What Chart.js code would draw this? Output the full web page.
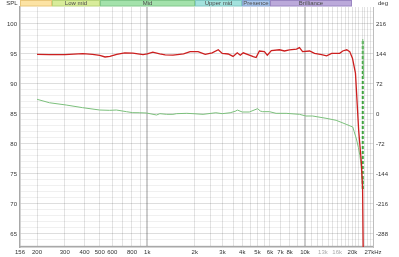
<!DOCTYPE html>
<html>
<head>
<meta charset="utf-8">
<script src="https://cdn.jsdelivr.net/npm/chart.js@4/dist/chart.umd.min.js"></script>
<style>
html,body{margin:0;padding:0;background:#fff;}
#c{display:block;}
</style>
</head>
<body>
<canvas id="c" width="399" height="257"></canvas>
<script>
// ---- data ----
const splFreq = [200,240,300,390,450,500,540,580,640,720,810,940,1000,1085,1200,1300,1455,1600,1700,1870,2100,2330,2580,2820,2990,3260,3500,3720,3890,4060,4440,4700,4900,5140,5530,5770,6120,6890,7410,7970,8840,9230,9660,10700,11500,12750,13720,14760,16600,17350,18400,19220,20000,20900,21900,22800,23200,23450];
const splDb   = [94.95,94.9,94.9,95.05,94.95,94.75,94.5,94.6,94.95,95.2,95.15,94.9,95.0,95.3,95.0,94.85,94.8,94.95,95.0,95.4,95.4,94.95,95.2,95.7,95.1,95.0,94.6,95.2,94.8,95.2,94.8,94.55,94.4,95.5,95.4,94.8,95.55,95.7,95.5,95.7,95.8,96.05,95.4,95.5,95.1,94.9,94.7,95.1,95.1,95.5,95.7,95.4,94.3,91.8,82.3,76.8,72.3,60.0];

const phaseFreq = [200,240,306,389,499,577,637,737,809,897,989,1146,1202,1327,1455,1536,1779,1950,2258,2722,2986,3356,3650,3720,4005,4437,5010,5210,5392,5948,6560,7596,9234,10150,11180,13600,15760,18240,20100,20500,21200,21800,22300,22700,23000,23250,23250,23550];
const phaseDeg  = [35.3,27,21.6,15.2,9.6,8.8,9.6,5.6,3.2,3.0,2.4,-2.4,0.8,-0.8,-0.8,0.8,1.6,0.8,-0.8,3,0.8,3,7.2,9.6,4.8,4.8,12.8,7.2,5.6,5.6,1.6,1.6,-0.8,-4.8,-4.8,-10.3,-15.1,-24.7,-31.2,-42,-60,-80,-100,-125,-155,-180,180,86];

const xGridValues = [200,300,400,500,600,700,800,900,1000,2000,2500,3000,3500,4000,4500,5000,5500,6000,7000,8000,9000,10000,11000,12000,13000,14000,15000,16000,17000,18000,19000,20000,21000,22000,23000,24000,25000,26000,156,27000];
const xTickLabels = {156:'156',200:'200',300:'300',400:'400',500:'500',600:'600',800:'800',1000:'1k',2000:'2k',3000:'3k',4000:'4k',5000:'5k',6000:'6k',7000:'7k',8000:'8k',10000:'10k',13000:'13k',16000:'16k',20000:'20k',27000:'27kHz'};
const xFaintLabels = ['13k','16k'];
const yLeftTicks = [65,70,75,80,85,90,95,100];
const yRightTicks = [-288,-216,-144,-72,0,72,144,216];

const bandEdges = [156,250,500,2000,4000,6000,20000];
const bandNames = ['','Low mid','Mid','Upper mid','Presence','Brilliance'];
const bandColors = ['#fce3a4','#d8ec9a','#a3e2ab','#a3e2dd','#a9c6ec','#bba9da'];
const bandBorders = ['#e9c77a','#b9d47a','#82c98c','#80c9c4','#86a6d2','#9a86c2'];

// ---- chart ----
const FONT = 'Liberation Sans';
const splPts = splFreq.map((f,i)=>({x:f,y:splDb[i]}));
const phPts = phaseFreq.map((f,i)=>({x:f,y:phaseDeg[i]}));

const bandPlugin = {
  id:'bands',
  afterDraw(chart){
    const ctx = chart.ctx, xs = chart.scales.x;
    ctx.save();
    for(let i=0;i<bandNames.length;i++){
      const x0 = Math.round(xs.getPixelForValue(bandEdges[i]));
      const x1 = Math.round(xs.getPixelForValue(bandEdges[i+1]));
      ctx.fillStyle = bandColors[i];
      ctx.fillRect(x0,0,x1-x0,6);
      ctx.strokeStyle = bandBorders[i];
      ctx.lineWidth = 1;
      ctx.strokeRect(x0+0.5,0.5,x1-x0-1,5.5);
      if(bandNames[i]){
        ctx.fillStyle = '#4a4a4a';
        ctx.font = '6px "'+FONT+'"';
        ctx.textAlign='center'; ctx.textBaseline='middle';
        ctx.fillText(bandNames[i],(x0+x1)/2,3.3);
      }
    }
    ctx.fillStyle='#333';
    ctx.font = '6px "'+FONT+'"';
    ctx.textBaseline='middle';
    ctx.textAlign='center';
    ctx.fillText('SPL',12,3.5);
    ctx.fillText('deg',383,3.5);
    ctx.restore();
  }
};

const isMajorX = v => v===1000 || v===10000;

new Chart(document.getElementById('c'),{
  type:'line',
  data:{datasets:[
    {label:'SPL',data:splPts,yAxisID:'y',borderColor:'#cc1f1f',borderWidth:1.3,pointRadius:0,tension:0,fill:false},
    {label:'Phase',data:phPts,yAxisID:'y2',borderColor:'#7cc07c',borderWidth:1,pointRadius:0,tension:0,fill:false,
      segment:{
        borderDash:c=> c.p0.parsed.x===c.p1.parsed.x ? [3,2] : undefined,
        borderWidth:c=> c.p0.parsed.x===c.p1.parsed.x ? 2 : undefined,
        borderColor:c=> c.p0.parsed.x===c.p1.parsed.x ? '#3fa43f' : undefined
      }}
  ]},
  options:{
    responsive:false,animation:false,devicePixelRatio:1,
    layout:{padding:{top:7,left:0,right:0,bottom:0}},
    plugins:{legend:{display:false},tooltip:{enabled:false}},
    scales:{
      x:{type:'logarithmic',min:156,max:27000,
        afterBuildTicks:s=>{s.ticks = xGridValues.slice().sort((a,b)=>a-b).map(v=>({value:v}));},
        afterFit:s=>{s.height=10;},
        ticks:{autoSkip:false,maxRotation:0,minRotation:0,padding:2,
          font:{family:FONT,size:6},
          color:c=> xFaintLabels.includes(xTickLabels[c.tick.value]) ? '#aaaaaa' : '#333',
          callback:v=> xTickLabels[v] || ''},
        grid:{drawTicks:false,
          color:c=> (c.tick.value===156||c.tick.value===27000) ? 'rgba(0,0,0,0)' : (isMajorX(c.tick.value) ? 'rgba(0,0,0,0.2)' : 'rgba(0,0,0,0.11)'),
          lineWidth:c=> isMajorX(c.tick.value) ? 2 : 1},
        border:{color:'#a8a8a8',width:1.5}
      },
      y:{position:'left',min:62.83,max:102.83,
        afterBuildTicks:s=>{const t=[];for(let v=63;v<=102;v++)t.push({value:v});s.ticks=t;},
        afterFit:s=>{s.width=20;},
        ticks:{autoSkip:false,padding:3,font:{family:FONT,size:6},color:'#333'
          ,callback:v=> yLeftTicks.includes(v) ? String(v) : ''},
        grid:{drawTicks:false,color:c=> yLeftTicks.includes(c.tick.value) ? 'rgba(0,0,0,0.13)' : 'rgba(0,0,0,0.06)'},
        border:{color:'#a8a8a8',width:1.5}
      },
      y2:{position:'right',min:-319.2,max:256.8,
        afterBuildTicks:s=>{s.ticks=yRightTicks.map(v=>({value:v}));},
        afterFit:s=>{s.width=26;},
        ticks:{autoSkip:false,padding:3,font:{family:FONT,size:6},color:'#333'},
        grid:{drawOnChartArea:false,drawTicks:false},
        border:{color:'#bdbdbd',width:1}
      }
    }
  },
  plugins:[bandPlugin]
});
</script>
</body>
</html>
